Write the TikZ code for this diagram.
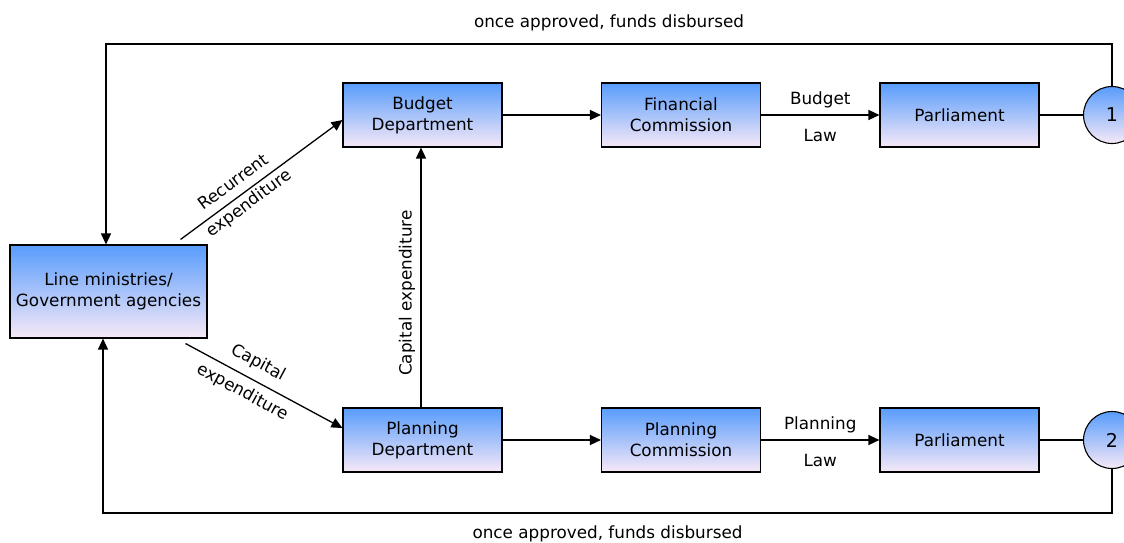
\documentclass[tikz,border=0pt]{standalone}
\usepackage{fontspec}
\setmainfont{DejaVu Sans}
\usetikzlibrary{arrows.meta}
\definecolor{boxtop}{RGB}{88,156,252}
\definecolor{boxbottom}{RGB}{247,233,247}
\begin{document}
\begin{tikzpicture}[x=1pt,y=-1pt,
    font=\fontsize{16.8}{21}\selectfont,
    box/.style={draw,line width=1.1pt,top color=boxtop,bottom color=boxbottom,
        minimum width=159pt,minimum height=64pt,align=center,inner sep=0pt},
    num/.style={draw,circle,line width=1.1pt,top color=boxtop,bottom color=boxbottom,
        minimum size=57pt,inner sep=0pt,font=\fontsize{19}{21}\selectfont},
    flow/.style={line width=1.3pt,-{Triangle[length=11pt,width=10pt]}}]
    \useasboundingbox (0,0) rectangle (1124,543);

    \node[box,minimum width=197pt,minimum height=93pt] (lm) at (108.5,291.5) {Line ministries/\\Government agencies};
    \node[box] (bd) at (422.5,115) {Budget\\Department};
    \node[box] (fc) at (681,115) {Financial\\Commission};
    \node[box] (p1) at (959.5,115) {Parliament};
    \node[num] (c1) at (1112,115) {1};
    \node[box] (pd) at (422.5,440) {Planning\\Department};
    \node[box] (pc) at (681,440) {Planning\\Commission};
    \node[box] (p2) at (959.5,440) {Parliament};
    \node[num] (c2) at (1112,440) {2};

    \path[flow] ([xshift=-27pt,yshift=5pt]lm.north east) edge
        node[pos=0.38,sloped,above=5pt] {Recurrent}
        node[pos=0.38,sloped,below=0pt] {expenditure} ([yshift=-5pt]bd.west);
    \path[flow] ([xshift=-22pt,yshift=-5pt]lm.south east) edge
        node[pos=0.41,sloped,above=5pt] {Capital}
        node[pos=0.41,sloped,below=4pt] {expenditure} ([yshift=12pt]pd.west);
    \path[flow] ([xshift=-1.5pt]pd.north) edge
        node[pos=0.44,sloped,above=2pt] {Capital expenditure} ([xshift=-1.5pt]bd.south);

    \path[flow] (bd) edge (fc);
    \path[flow] (fc) edge node[above=3pt] {Budget} node[below=10pt] {Law} (p1);
    \draw[line width=1.3pt] (p1) -- (c1);
    \path[flow] (pd) edge (pc);
    \path[flow] (pc) edge node[above=3pt] {Planning} node[below=10pt] {Law} (p2);
    \draw[line width=1.3pt] (p2) -- (c2);

    % funds go back to the ministries
    \coordinate (tl) at (106,44);
    \coordinate (bl) at (103,513);
    \draw[flow] (c1.north) |- node[pos=0.75,above=9pt] {once approved, funds disbursed} (tl) -- (tl |- lm.north);
    \draw[flow] (c2.south) |- node[pos=0.75,below=9pt] {once approved, funds disbursed} (bl) -- (bl |- lm.south);
\end{tikzpicture}
\end{document}
